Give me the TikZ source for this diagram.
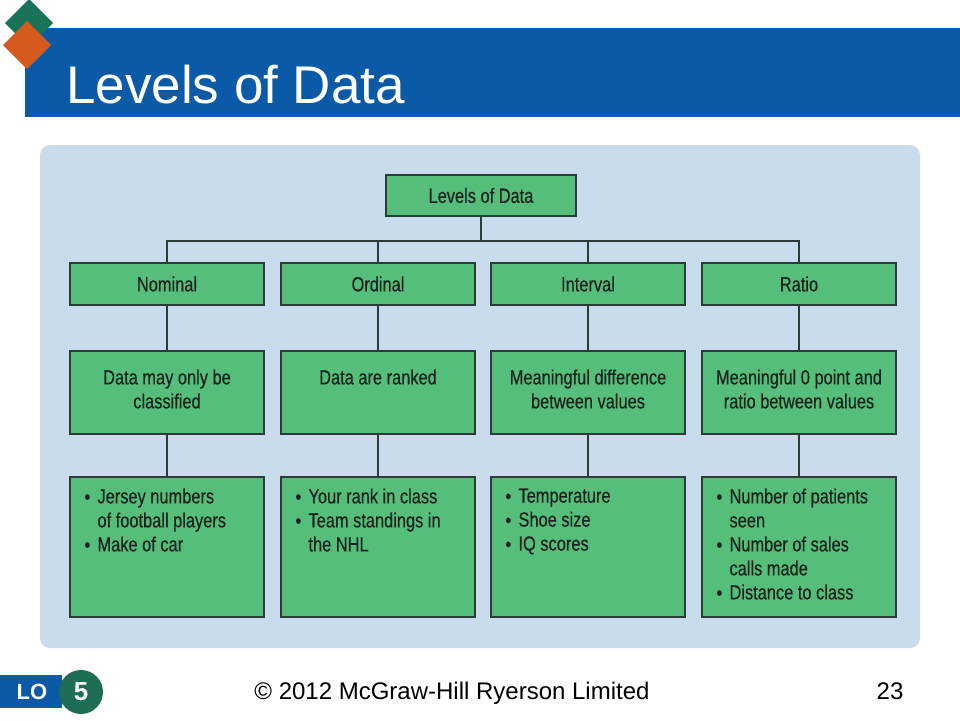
\documentclass[tikz,border=0pt]{standalone}
\usepackage{fontspec}
\setmainfont{Liberation Sans}
\newfontfamily\condfont[FakeStretch=0.8,FakeBold=0.4]{Liberation Sans}
\definecolor{banner}{RGB}{10,90,168}
\definecolor{dgreen}{RGB}{26,115,88}
\definecolor{dorange}{RGB}{212,90,30}
\definecolor{panel}{RGB}{202,220,235}
\definecolor{boxgreen}{RGB}{84,190,122}
\definecolor{boxline}{RGB}{45,58,58}
\definecolor{txtdark}{RGB}{25,35,30}
\definecolor{lo}{RGB}{30,110,85}
\newcommand\bl{\makebox[13pt][l]{\raisebox{-0.5pt}{•}}}
\newcommand\ind{\hspace*{13pt}}
\begin{document}
\begin{tikzpicture}[x=1pt,y=-1pt,
  lvbox/.style={draw=boxline, line width=1.4pt, fill=boxgreen, inner sep=0pt},
  lvtext/.style={font=\condfont\fontsize{20.5}{24}\selectfont, text=txtdark, inner sep=0pt},
  conn/.style={draw=boxline, line width=1.4pt}]
\useasboundingbox (0,0) rectangle (960,720);
\fill[white] (0,0) rectangle (960,720);
% banner
\fill[banner] (25,28) rectangle (960,117);
\fill[dgreen] (29,-1) -- (53,23) -- (29,47) -- (5,23) -- cycle;
\fill[dorange] (27,21) -- (51,45) -- (27,69) -- (3,45) -- cycle;
\node[anchor=base west, text=white, font=\fontsize{53}{53}\selectfont, inner sep=0pt] (title) at (66,103) {Levels of Data};
% panel
\fill[panel, rounded corners=10pt] (40,145) rectangle (920,648);
% top
\node[lvbox, minimum width=190pt, minimum height=41pt] (top) at (481,195.5) {};
\node[lvtext] (toptxt) at (top.center) {Levels of Data};
% level 2
\foreach \n/\x/\t in {nom/167/Nominal, ord/378/Ordinal, int/588/Interval, rat/799/Ratio}{
  \node[lvbox, minimum width=194pt, minimum height=42pt] (\n) at (\x,284) {};
  \node[lvtext] (\n txt) at (\n.center) {\t};
}
% level 3
\foreach \n/\x in {nomd/167, ordd/378, intd/588, ratd/799}{
  \node[lvbox, minimum width=194pt, minimum height=83pt] (\n) at (\x,392.5) {};
}
\node[lvtext, anchor=north, align=center] (nomdt) at ([yshift=-19pt]nomd.north) {Data may only be\\classified};
\node[lvtext, anchor=north, align=center] (orddt) at ([yshift=-19pt]ordd.north) {Data are ranked};
\node[lvtext, anchor=north, align=center] (intdt) at ([yshift=-19pt]intd.north) {Meaningful difference\\between values};
\node[lvtext, anchor=north, align=center] (ratdt) at ([yshift=-19pt]ratd.north) {Meaningful 0 point and\\ratio between values};
% level 4
\foreach \n/\x in {nome/167, orde/378, inte/588, rate/799}{
  \node[lvbox, minimum width=194pt, minimum height=140pt] (\n) at (\x,547) {};
}
\node[lvtext, anchor=north west, align=left] (nomet) at ([xshift=15pt,yshift=-12pt]nome.north west) {\bl Jersey numbers\\\ind of football players\\\bl Make of car};
\node[lvtext, anchor=north west, align=left] (ordet) at ([xshift=15pt,yshift=-12pt]orde.north west) {\bl Your rank in class\\\bl Team standings in\\\ind the NHL};
\node[lvtext, anchor=north west, align=left] (intet) at ([xshift=15pt,yshift=-12pt]inte.north west) {\bl Temperature\\\bl Shoe size\\\bl IQ scores};
\node[lvtext, anchor=north west, align=left] (ratet) at ([xshift=15pt,yshift=-12pt]rate.north west) {\bl Number of patients\\\ind seen\\\bl Number of sales\\\ind calls made\\\bl Distance to class};
% connectors
\coordinate (bus) at (481,241);
\draw[conn] (top.south) -- (bus);
\draw[conn] (nom.north) -- (nom.north |- bus) -- (rat.north |- bus) -- (rat.north);
\draw[conn] (ord.north) -- (ord.north |- bus);
\draw[conn] (int.north) -- (int.north |- bus);
\foreach \a/\b/\c in {nom/nomd/nome, ord/ordd/orde, int/intd/inte, rat/ratd/rate}{
  \draw[conn] (\a.south) -- (\b.north);
  \draw[conn] (\b.south) -- (\c.north);
}
% footer
\fill[banner] (0,675) rectangle (62,708);
\node[text=white, font=\bfseries\fontsize{22}{22}\selectfont, inner sep=0pt] (lo) at (32,692) {LO};
\fill[lo] (81,692) circle (22);
\node[text=white, font=\bfseries\fontsize{26}{26}\selectfont, inner sep=0pt] (five) at (81,692) {5};
\node[anchor=base, font=\fontsize{24}{24}\selectfont, text=black, inner sep=0pt] (copy) at (452,699) {© 2012 McGraw-Hill Ryerson Limited};
\node[anchor=base, font=\fontsize{24}{24}\selectfont, text=black, inner sep=0pt] (page) at (890,699) {23};
\end{tikzpicture}
\end{document}
